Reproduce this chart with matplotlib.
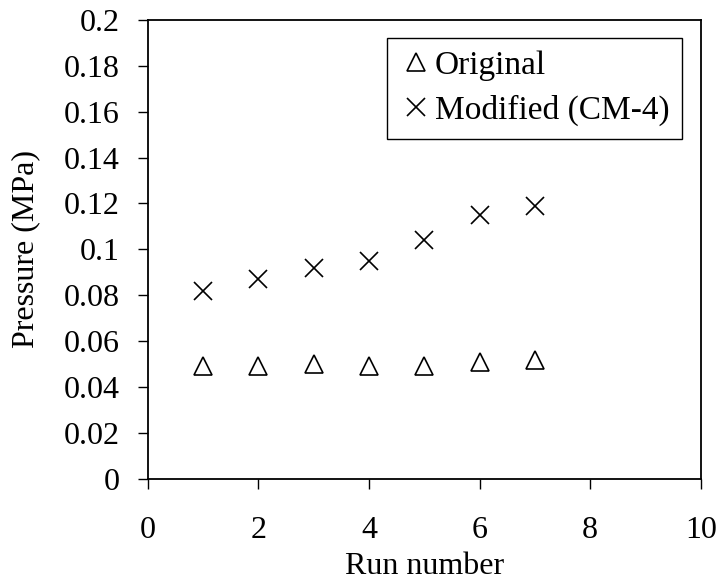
import matplotlib
matplotlib.use("Agg")
import matplotlib.pyplot as plt
from matplotlib.ticker import FuncFormatter

plt.rcParams['font.family'] = ['Liberation Serif', 'DejaVu Serif']

# run-by-run peak pressure
runs = [1, 2, 3, 4, 5, 6, 7]
original = [0.049, 0.049, 0.050, 0.049, 0.049, 0.051, 0.052]
modified = [0.082, 0.087, 0.092, 0.095, 0.104, 0.115, 0.119]

x_ticks = [0, 2, 4, 6, 8, 10]
y_ticks = [0, 0.02, 0.04, 0.06, 0.08, 0.1, 0.12, 0.14, 0.16, 0.18, 0.2]

fs = 23

fig = plt.figure(figsize=(7.21, 5.82), dpi=100)
ax = fig.add_axes([0.205, 0.177, 0.767, 0.789])

ax.plot(runs, original, linestyle='none', marker='^', markersize=13.5,
        markerfacecolor='white', markeredgecolor='black', markeredgewidth=1.2,
        label='Original')
ax.plot(runs, modified, linestyle='none', marker='x', markersize=13.5,
        color='black', markeredgewidth=1.2, label='Modified (CM-4)')

ax.set_xlim(0, 10)
ax.set_ylim(0, 0.2)
ax.set_xticks(x_ticks)
ax.set_yticks(y_ticks)
ax.yaxis.set_major_formatter(FuncFormatter(lambda v, p: '%g' % v))
ax.tick_params(direction='out', length=7.5, width=1.0, labelsize=fs)
ax.tick_params(axis='x', pad=19)
ax.tick_params(axis='y', pad=13)
for sp in ax.spines.values():
    sp.set_linewidth(1.3)

ax.set_xlabel('Run number', fontsize=fs)
ax.xaxis.set_label_coords(0.5, -0.16)
ax.set_ylabel('Pressure (MPa)', fontsize=fs)
ax.yaxis.set_label_coords(-0.195, 0.5)

leg = ax.legend(loc='upper right', bbox_to_anchor=(0.966, 0.961),
                borderaxespad=0, fontsize=24, frameon=True, fancybox=False,
                handlelength=1.0, handletextpad=0.05, borderpad=0.38,
                labelspacing=0.42, markerscale=0.95)
leg.get_frame().set_edgecolor('black')
leg.get_frame().set_linewidth(1.0)
leg.get_frame().set_alpha(1)

fig.savefig('out.png', dpi=100)
